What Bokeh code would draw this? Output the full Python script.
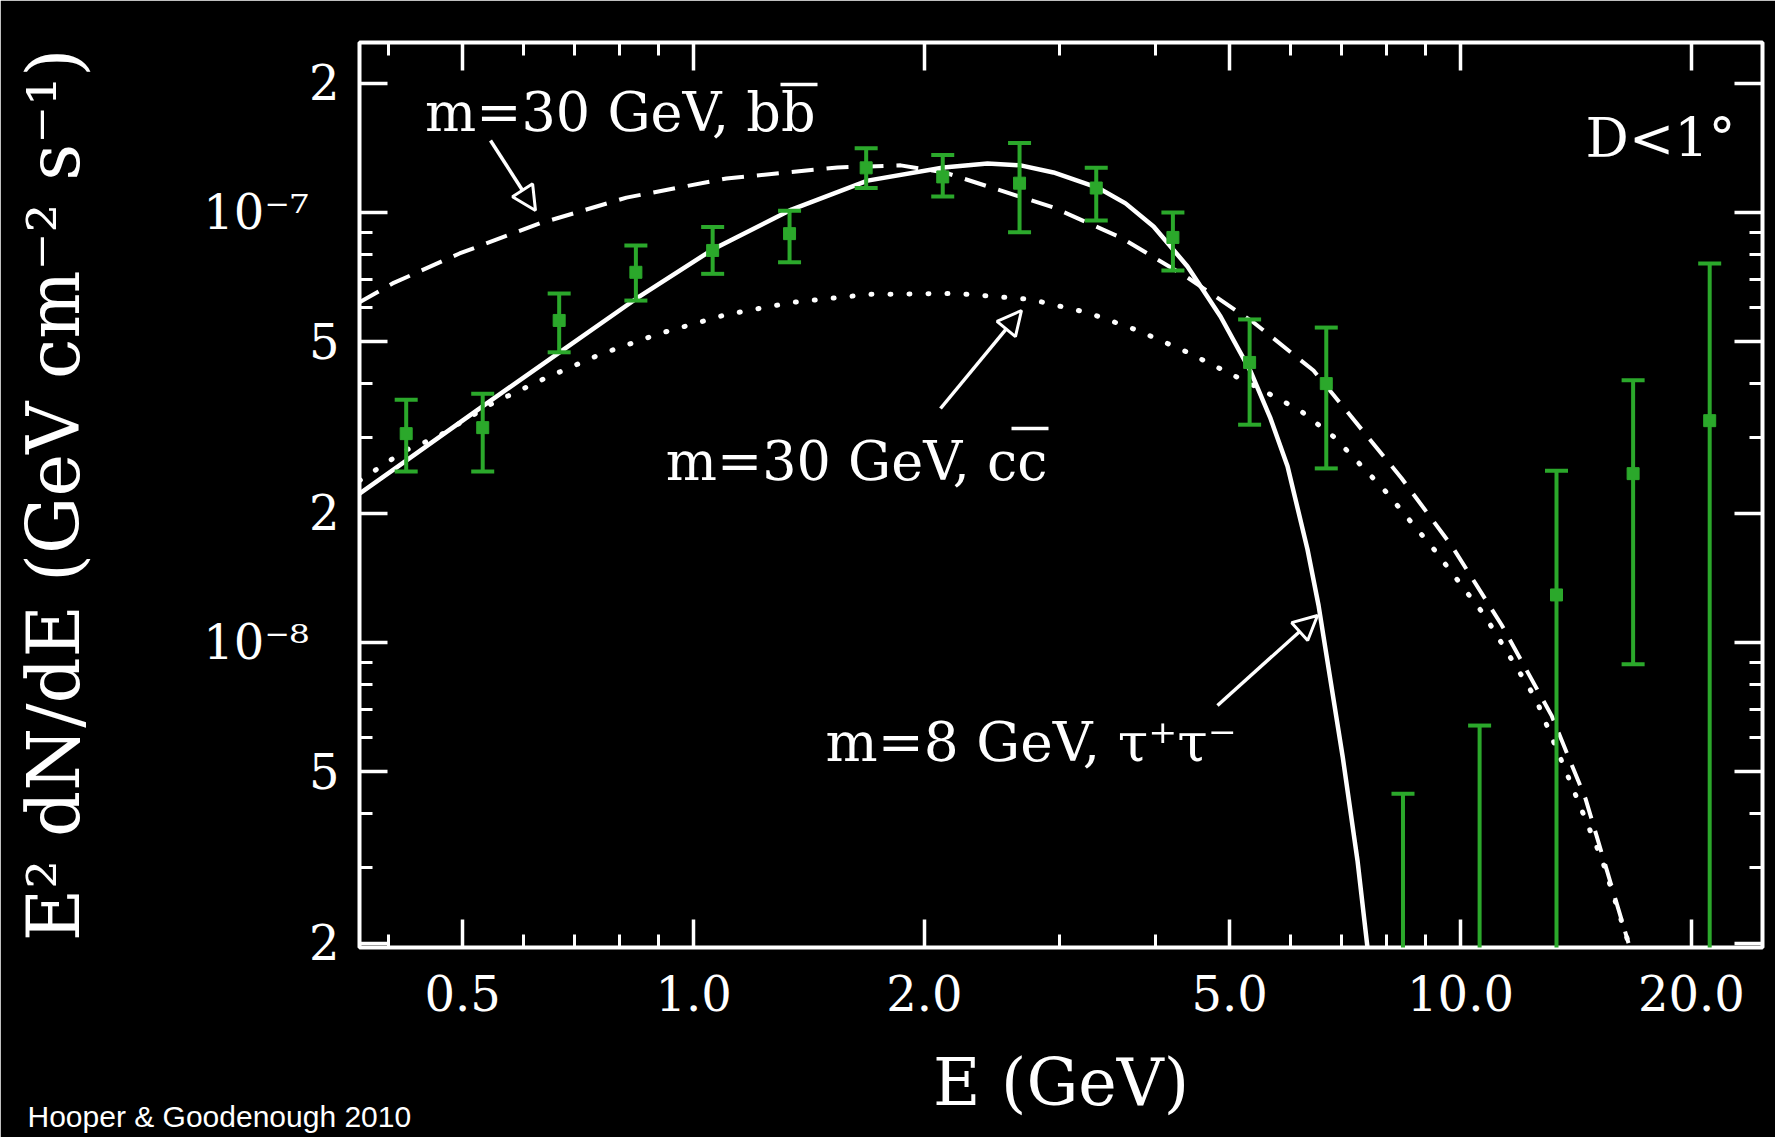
import numpy as np
from bokeh.plotting import figure
from bokeh.models import (LogAxis, FixedTicker, CustomJSTickFormatter, Label,
                          Arrow, NormalHead)
from bokeh.embed import file_html
from bokeh.resources import INLINE

# ---------------- data ----------------
energy = [0.422, 0.531, 0.668, 0.841, 1.059, 1.334, 1.679, 2.113, 2.661,
          3.350, 4.217, 5.309, 6.683, 8.414, 10.59, 13.34, 16.79, 21.13]
flux = [3.06e-8, 3.16e-8, 5.61e-8, 7.26e-8, 8.16e-8, 8.93e-8, 1.27e-7, 1.21e-7,
        1.17e-7, 1.14e-7, 8.75e-8, 4.48e-8, 4.00e-8, np.nan, np.nan, 1.29e-8,
        2.47e-8, 3.28e-8]
flux_hi = [3.67e-8, 3.79e-8, 6.48e-8, 8.38e-8, 9.25e-8, 1.01e-7, 1.41e-7, 1.36e-7,
           1.45e-7, 1.27e-7, 1.00e-7, 5.64e-8, 5.40e-8, 4.45e-9, 6.41e-9, 2.51e-8,
           4.07e-8, 7.61e-8]
flux_lo = [2.50e-8, 2.50e-8, 4.73e-8, 6.24e-8, 7.20e-8, 7.66e-8, 1.14e-7, 1.09e-7,
           9.00e-8, 9.58e-8, 7.33e-8, 3.21e-8, 2.54e-8, 1e-10, 1e-10, 1e-10,
           8.90e-9, 1e-10]

# m = 8 GeV, tau+ tau-  (solid)
tau_E = [0.3668, 0.4211, 0.5307, 0.6687, 0.8426, 1.0587, 1.342, 1.686, 2.118,
         2.417, 2.669, 2.946, 3.363, 3.658, 3.979, 4.406, 4.865, 5.325, 5.653,
         5.949, 6.317, 6.530, 7.020, 7.340, 7.563]
tau_F = [2.22e-8, 2.64e-8, 3.54e-8, 4.73e-8, 6.31e-8, 8.20e-8, 1.016e-7, 1.186e-7,
         1.273e-7, 1.300e-7, 1.287e-7, 1.239e-7, 1.143e-7, 1.05e-7, 9.28e-8,
         7.49e-8, 5.73e-8, 4.27e-8, 3.32e-8, 2.57e-8, 1.645e-8, 1.219e-8,
         5.43e-9, 3.11e-9, 1.953e-9]

# m = 30 GeV, b bbar  (dashed)
bb_E = [0.3668, 0.4051, 0.4953, 0.6300, 0.8176, 1.104, 1.541, 1.862, 2.125, 2.946,
        3.604, 4.406, 5.373, 6.432, 8.378, 9.734, 11.31, 13.14, 14.55, 16.56]
bb_F = [6.18e-8, 6.84e-8, 8.03e-8, 9.43e-8, 1.083e-7, 1.20e-7, 1.273e-7, 1.287e-7,
        1.239e-7, 1.027e-7, 8.75e-8, 7.06e-8, 5.55e-8, 4.29e-8, 2.41e-8, 1.68e-8,
        1.10e-8, 6.77e-9, 4.34e-9, 2.0e-9]

# m = 30 GeV, c cbar  (dotted)
cc_E = [0.3668, 0.4211, 0.4623, 0.5469, 0.6431, 0.7561, 0.9030, 1.104, 1.346, 1.691,
        2.209, 2.750, 3.264, 3.793, 4.406, 5.373, 6.184, 6.850, 7.961, 9.250,
        10.75, 12.53, 13.83, 15.31, 16.56]
cc_F = [2.38e-8, 2.80e-8, 3.00e-8, 3.60e-8, 4.13e-8, 4.68e-8, 5.23e-8, 5.79e-8,
        6.18e-8, 6.45e-8, 6.48e-8, 6.28e-8, 5.85e-8, 5.32e-8, 4.73e-8, 3.96e-8,
        3.46e-8, 3.00e-8, 2.26e-8, 1.64e-8, 1.156e-8, 7.41e-9, 4.85e-9, 3.11e-9,
        2.0e-9]

x_major = [0.5, 1, 2, 5, 10, 20]
x_minor = [0.4, 0.6, 0.7, 0.8, 0.9, 3, 4, 6, 7, 8, 9]
y_major = [2e-9, 5e-9, 1e-8, 2e-8, 5e-8, 1e-7, 2e-7]
y_minor = [3e-9, 4e-9, 6e-9, 7e-9, 8e-9, 9e-9, 3e-8, 4e-8, 6e-8, 7e-8, 8e-8, 9e-8]
y_tick_text = ["2", "5", "10⁻⁸\u00a0\u00a0", "2", "5", "10⁻⁷\u00a0\u00a0", "2"]

# ---------------- layout ----------------
W, H = 1775, 1137
FL, FR, FT, FB = 359, 1762, 42, 947
XR = (0.3668, 24.76)
YR = (1.953e-9, 2.485e-7)
GREEN = "#2ba82b"
SERIF = "DejaVu Serif"


def dx(px):
    t = (px - FL) / (FR - FL)
    a, b = np.log10(XR[0]), np.log10(XR[1])
    return float(10 ** (a + t * (b - a)))


def dy(py):
    t = (FB - py) / (FB - FT)
    a, b = np.log10(YR[0]), np.log10(YR[1])
    return float(10 ** (a + t * (b - a)))


p = figure(width=W, height=H, x_axis_type="log", y_axis_type="log",
           x_range=XR, y_range=YR, output_backend="svg", toolbar_location=None,
           background_fill_color="black", border_fill_color="black",
           min_border_left=FL, min_border_right=W - FR,
           min_border_top=FT, min_border_bottom=H - FB)
p.xgrid.visible = False
p.ygrid.visible = False
p.outline_line_color = "white"
p.outline_line_width = 4

xt = FixedTicker(ticks=x_major, minor_ticks=x_minor)
yt = FixedTicker(ticks=y_major, minor_ticks=y_minor)


def style(ax, hidden=True):
    ax.axis_line_color = None
    ax.major_tick_line_color = "white"
    ax.major_tick_line_width = 3.5
    ax.minor_tick_line_color = "white"
    ax.minor_tick_line_width = 3
    ax.major_tick_in = 28
    ax.major_tick_out = 0
    ax.minor_tick_in = 13
    ax.minor_tick_out = 0
    if hidden:
        ax.formatter = CustomJSTickFormatter(code="return ''")
        ax.major_label_text_font_size = "1px"
        ax.major_label_standoff = 0
    else:
        ax.major_label_text_font = SERIF
        ax.major_label_text_font_size = "48px"
        ax.major_label_text_color = "white"
        ax.major_label_standoff = 20
        ax.axis_label_text_font = SERIF
        ax.axis_label_text_font_style = "normal"
        ax.axis_label_text_color = "white"


bx = p.xaxis[0]
bx.ticker = xt
style(bx, hidden=False)
bx.formatter = CustomJSTickFormatter(code="return tick.toFixed(1)")
bx.major_label_standoff = 27
bx.axis_label = "E (GeV)"
bx.axis_label_text_font_size = "65px"
bx.axis_label_standoff = 31

ly = p.yaxis[0]
ly.ticker = yt
style(ly, hidden=False)
ly.formatter = CustomJSTickFormatter(
    args=dict(yvals=y_major, ytexts=y_tick_text),
    code="""
    let best = 0, bd = 1e9;
    for (let i = 0; i < yvals.length; i++) {
      const d = Math.abs(Math.log10(yvals[i]) - Math.log10(tick));
      if (d < bd) { bd = d; best = i; }
    }
    return ytexts[best];
    """)
ly.axis_label = "E² dN/dE (GeV cm⁻² s⁻¹)"
ly.axis_label_text_font_size = "72px"
ly.axis_label_standoff = 104

top = LogAxis(ticker=xt)
style(top)
p.add_layout(top, "above")
right = LogAxis(ticker=yt)
style(right)
p.add_layout(right, "right")

# ---------------- curves ----------------
p.line(bb_E, bb_F, line_color="white", line_width=4, line_dash="22 13")
p.line(cc_E, cc_F, line_color="white", line_width=5, line_dash="1 18",
       line_cap="round")
p.line(tau_E, tau_F, line_color="white", line_width=4.5)

# ---------------- data points ----------------
p.segment(x0=energy, y0=flux_lo, x1=energy, y1=flux_hi, line_color=GREEN,
          line_width=4)
p.scatter(energy, flux_hi, marker="dash", size=23, line_color=GREEN, line_width=4)
p.scatter(energy, flux_lo, marker="dash", size=23, line_color=GREEN, line_width=4)
p.scatter(energy, flux, marker="square", size=12, color=GREEN)


# ---------------- texts inside the frame ----------------
def lab(text, px, py, size, align="left", font=SERIF):
    p.add_layout(Label(x=dx(px), y=dy(py), text=text, text_font=font,
                       text_font_size=f"{size}px", text_color="white",
                       text_align=align, text_baseline="alphabetic"))


lab("D<1°", 1735, 138, 54, align="right")
lab("m=30 GeV, bb", 815, 112, 54, align="right")
lab("m=30 GeV, cc", 1047, 461, 54, align="right")
lab("m=8 GeV, τ⁺τ⁻", 825, 741, 55)

# overbars
p.segment(x0=[dx(780), dx(1011)], y0=[dy(84), dy(428)],
          x1=[dx(817), dx(1048)], y1=[dy(84), dy(428)],
          line_color="white", line_width=3.5)

# arrows
for (x0, y0, x1, y1) in [(490, 140, 535, 210), (940, 408, 1021, 310),
                         (1217, 705, 1317, 615)]:
    p.add_layout(Arrow(x_start=dx(x0), y_start=dy(y0), x_end=dx(x1), y_end=dy(y1),
                       line_color="white", line_width=3.5,
                       end=NormalHead(size=24, fill_color="black",
                                      line_color="white", line_width=3)))

# credit line (placed in a side panel so it is not clipped to the frame)
credit = Label(x=27 - FL, y=40 - 1114, x_units="screen", y_units="screen",
               text="Hooper & Goodenough 2010", text_font="Liberation Sans",
               text_font_size="30px", text_color="white",
               text_align="left", text_baseline="alphabetic")
p.add_layout(credit, "above")

open("out.html", "w").write(file_html(p, INLINE))
